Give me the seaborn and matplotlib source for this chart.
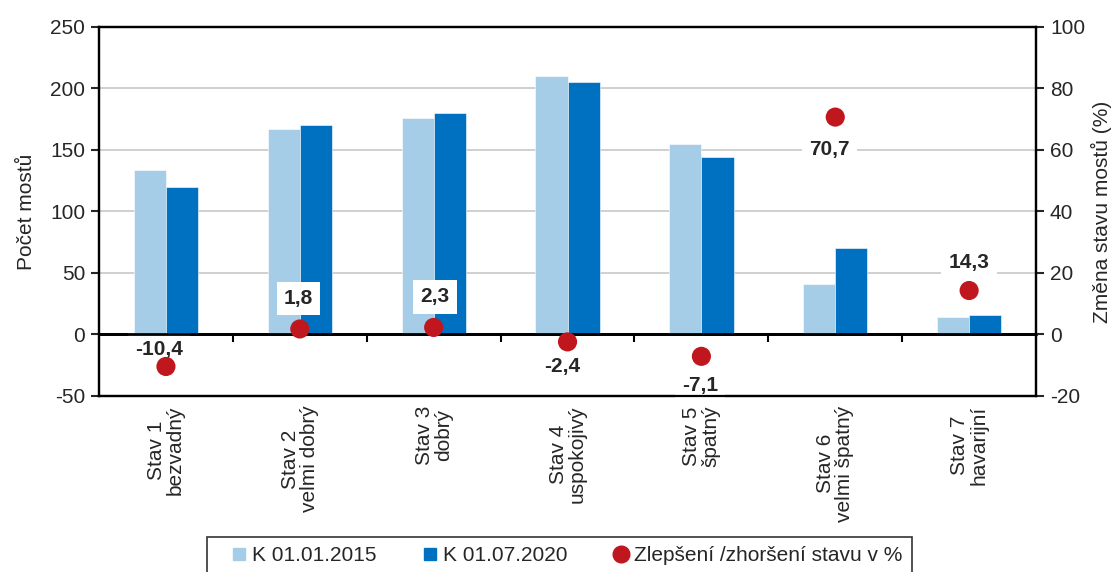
import numpy as np
import pandas as pd
import seaborn as sns
import matplotlib.pyplot as plt
from matplotlib import font_manager
from matplotlib.lines import Line2D

# data
stavy = ['Stav 1\nbezvadný', 'Stav 2\nvelmi dobrý', 'Stav 3\ndobrý', 'Stav 4\nuspokojivý',
         'Stav 5\nšpatný', 'Stav 6\nvelmi špatný', 'Stav 7\nhavarijní']
pocet_2015 = [134, 167, 176, 210, 155, 41, 14]
pocet_2020 = [120, 170, 180, 205, 144, 70, 16]
zmena_pct = [-10.4, 1.8, 2.3, -2.4, -7.1, 70.7, 14.3]
popisky = ['-10,4', '1,8', '2,3', '-2,4', '-7,1', '70,7', '14,3']
serie = ['K 01.01.2015', 'K 01.07.2020']
serie_bod = 'Zlepšení /zhoršení stavu v %'

# label offsets in points (dx, dy)
offsets = [(-5, 12), (-1, 22), (1, 22), (-4, -18), (-1, -21), (-4, -23), (0, 20)]

c_light = '#A6CDE8'
c_dark = '#0070C0'
c_red = '#C0171F'

sns.set_theme(style='white')
names = {f.name for f in font_manager.fontManager.ttflist}
base = 'Liberation Sans' if 'Liberation Sans' in names else 'DejaVu Sans'
narrow = 'Liberation Sans Narrow' if 'Liberation Sans Narrow' in names else base
plt.rcParams['font.family'] = [base, 'DejaVu Sans']
plt.rcParams['axes.unicode_minus'] = False

df = pd.DataFrame({
    'stav': stavy * 2,
    'obdobi': [serie[0]] * len(stavy) + [serie[1]] * len(stavy),
    'pocet': pocet_2015 + pocet_2020,
})

fig = plt.figure(figsize=(11.15, 5.72), dpi=100)
ax = fig.add_axes([0.0888, 0.3077, 0.8404, 0.6451])

sns.barplot(data=df, x='stav', y='pocet', hue='obdobi', order=stavy, hue_order=serie,
            palette=[c_light, c_dark], saturation=1, width=0.48, gap=0,
            edgecolor='white', linewidth=0.4, ax=ax, legend=False, zorder=2)

ax.set_ylim(-50, 250)
ax.set_yticks(range(-50, 251, 50))
ax.set_xlim(-0.5, len(stavy) - 0.5)
ax.set_xlabel('')
ax.set_ylabel('Počet mostů', fontsize=15, labelpad=10)
ax.tick_params(axis='y', labelsize=15, length=6, width=1.5, direction='out', left=True, pad=4)
ax.tick_params(axis='x', labelsize=15, length=0, pad=7)
ax.set_xticks(range(len(stavy)))
ax.set_xticklabels(stavy, rotation=90, ha='center', va='top', linespacing=1.0)
for y in [50, 100, 150, 200]:
    ax.axhline(y, color='#C8C8C8', lw=1.2, zorder=0)
for s in ax.spines.values():
    s.set_color('black')
    s.set_linewidth(1.6)

# category separator ticks hanging from the zero line
sec = ax.secondary_xaxis(50 / 300)
sec.set_xticks(np.arange(0.5, len(stavy) - 0.5, 1))
sec.tick_params(axis='x', length=6, width=1.5, direction='out', labelbottom=False, labeltop=False,
                bottom=True, top=False, color='black')
sec.spines['bottom'].set_linewidth(2)
sec.spines['bottom'].set_color('black')

ax2 = ax.twinx()
ax2.set_ylim(-20, 100)
ax2.set_yticks(range(-20, 101, 20))
ax2.tick_params(axis='y', labelsize=15, length=6, width=1.5, direction='out', right=True, pad=4)
ax2.set_ylabel('Změna stavu mostů (%)', fontsize=15, labelpad=4)
ax2.grid(False)
for s in ax2.spines.values():
    s.set_color('black')
    s.set_linewidth(1.6)

xpos = np.arange(len(stavy))
sns.scatterplot(x=xpos, y=zmena_pct, color=c_red, s=190, edgecolor='none', ax=ax2, zorder=4)
for x, y, txt, (dx, dy) in zip(xpos, zmena_pct, popisky, offsets):
    ax2.annotate(txt, (x, y), xytext=(dx, dy), textcoords='offset points', ha='center', va='center',
                 fontsize=15, fontweight='bold',
                 bbox=dict(boxstyle='square,pad=0.35', fc='white', ec='none'), zorder=2.2)
ax2.axhline(0, color='black', lw=2, zorder=3.5)

handles = [
    Line2D([], [], marker='s', ls='none', color=c_light, markersize=8),
    Line2D([], [], marker='s', ls='none', color=c_dark, markersize=8),
    Line2D([], [], marker='o', ls='none', color=c_red, markersize=12),
]
leg = fig.legend(handles, serie + [serie_bod], loc='upper center', bbox_to_anchor=(0.5015, 0.061),
                 ncol=3, frameon=True, fancybox=False, edgecolor='black', borderpad=0.45,
                 borderaxespad=0, handletextpad=-0.5, columnspacing=1.5, handlelength=2.2,
                 prop={'family': narrow, 'size': 15})
leg.get_frame().set_linewidth(1.2)

fig.savefig('out.png', dpi=100)
